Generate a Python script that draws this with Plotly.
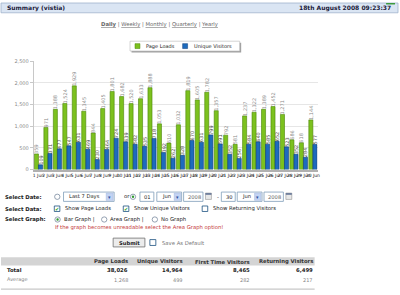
import plotly.graph_objects as go

days = [f"{d} Jun" for d in range(1, 31)]
page_loads = [359, 971, 1388, 1524, 1929, 1345, 844, 1405, 1801, 1682, 1520, 1633, 1888, 1053, 610,
              1032, 1819, 1605, 1782, 1357, 792, 581, 1237, 1322, 1389, 1452, 1271, 686, 618, 1144]
unique_visitors = [109, 371, 477, 547, 631, 469, 230, 464, 724, 639, 582, 535, 718, 392, 262,
                   328, 670, 631, 799, 591, 352, 256, 584, 640, 585, 652, 523, 352, 284, 577]
y_ticks = [0, 500, 1000, 1500, 2000, 2500]

table_cols = ["Page Loads", "Unique Visitors", "First Time Visitors", "Returning Visitors"]
table_total = ["38,026", "14,964", "8,465", "6,499"]
table_avg = ["1,268", "499", "282", "217"]

W, H = 400, 295
FONT = "DejaVu Sans"


def X(p):
    return p / W


def Y(p):
    return 1 - p / H


fig = go.Figure()
fig.add_trace(go.Bar(
    x=days, y=page_loads, name="Page Loads",
    marker=dict(color="#7cc11e", line=dict(color="#4a8406", width=0.6)),
    text=[f"{v:,}" for v in page_loads], textposition="outside", textangle=-90,
    textfont=dict(size=5, color="#8a8a8a", family=FONT), constraintext="none", cliponaxis=False,
))
fig.add_trace(go.Bar(
    x=days, y=unique_visitors, name="Unique Visitors",
    marker=dict(color="#1e6bbd", line=dict(color="#0c3a78", width=0.6)),
    text=[f"{v:,}" for v in unique_visitors], textposition="outside", textangle=-90,
    textfont=dict(size=5, color="#444444", family=FONT), constraintext="none", cliponaxis=False,
))

fig.update_layout(
    width=W, height=H, margin=dict(l=0, r=0, t=0, b=0),
    paper_bgcolor="white", plot_bgcolor="white", showlegend=False,
    barmode="group", bargap=0.14, bargroupgap=0.0,
    font=dict(family=FONT, size=5.5, color="#222"),
    xaxis=dict(domain=[X(33), X(319)], range=[-0.5, 29.5], tickmode="array",
               tickvals=days, ticktext=days, tickangle=0,
               tickfont=dict(size=4.5, color="#222"), showline=True, linecolor="#b0b0b0",
               linewidth=2, ticks="", showgrid=False, fixedrange=True),
    yaxis=dict(domain=[Y(170), Y(59.3)], range=[0, 2500], tickvals=y_ticks,
               ticktext=[f"{v:,}" for v in y_ticks], tickfont=dict(size=5, color="#8a8a8a"),
               showgrid=True, gridcolor="#e6e6e6", gridwidth=1, showline=True,
               linecolor="#c8c8c8", linewidth=1, ticks="outside", ticklen=3, tickcolor="#c8c8c8",
               zeroline=False),
)

shapes = []
ann = []


def rect(x0, y0, x1, y1, fill="white", line="#a0a0a0", lw=0.8):
    shapes.append(dict(type="rect", xref="paper", yref="paper", x0=X(x0), x1=X(x1),
                       y0=Y(y1), y1=Y(y0), fillcolor=fill, line=dict(color=line, width=lw)))


def circ(cx, cy, r, fill="white", line="#7a8aa0", lw=0.8):
    shapes.append(dict(type="circle", xref="paper", yref="paper", x0=X(cx - r), x1=X(cx + r),
                       y0=Y(cy + r), y1=Y(cy - r), fillcolor=fill, line=dict(color=line, width=lw)))


def text(x, y, s, size=5.5, color="#222", bold=False, anchor="left"):
    if bold:
        s = f"<b>{s}</b>"
    ann.append(dict(xref="paper", yref="paper", x=X(x), y=Y(y), text=s, showarrow=False,
                    xanchor=anchor, yanchor="middle",
                    font=dict(size=size, color=color, family=FONT)))


# Header bar
rect(0, 0, 400, 10, fill="#dae5f3", line="#9fb3cc", lw=0.8)
text(4, 5.5, "Summary (vistia)", size=6, color="#1a1a3a", bold=True)
text(395, 5.5, "18th August 2008 09:23:37", size=6, color="#1a1a3a", bold=True, anchor="right")
rect(388, 0, 397, 1.5, fill="#3c9a3c", line="#3c9a3c", lw=0)

# period links
ann.append(dict(xref="paper", yref="paper", x=X(160), y=Y(21.7), showarrow=False,
                xanchor="center", yanchor="middle",
                text="<b><u>Daily</u></b> | <u>Weekly</u> | <u>Monthly</u> | <u>Quarterly</u> | <u>Yearly</u>",
                font=dict(size=5.3, color="#666", family=FONT)))

# Legend box
rect(131.5, 40.5, 242, 50.5, fill="#a0a0a0", line="#a0a0a0", lw=0)
rect(130, 39, 240.5, 49, fill="white", line="#b8b8b8", lw=0.6)
rect(135, 41.5, 140, 46.5, fill="#7cc11e", line="#4a8406", lw=0.5)
text(144, 44, "Page Loads", size=5)
rect(183, 41.5, 188, 46.5, fill="#1e6bbd", line="#0c3a78", lw=0.5)
text(192, 44, "Unique Visitors", size=5)

# Row 1: Select Date
r1 = 197.8
text(2, r1, "Select Date:", bold=True, size=5.3)
circ(56.7, r1, 2.7)
rect(63, 193, 114, 202.5, line="#7f9db9")
text(66, r1, "Last 7 Days", size=5.2)
rect(106, 194, 113, 201.5, fill="#c3d3f3", line="#a0b4dc", lw=0.5)
text(109.5, r1, "▾", size=5, color="#3050a0", anchor="center")
text(122, r1 - 0.5, "or", size=5.3)
circ(133, r1, 2.7)
circ(133, r1, 1.2, fill="#2e9a2e", line="#2e9a2e", lw=0)
for x0, x1, s in [(140, 154, "01"), (222, 236, "30")]:
    rect(x0, 193, x1, 202.5, line="#7f9db9")
    text(x0 + 2.5, r1, s, size=5.2)
for x0 in (157, 238):
    rect(x0, 193, x0 + 25, 202.5, line="#7f9db9")
    text(x0 + 3, r1, "Jun", size=5.2)
    rect(x0 + 17.5, 194, x0 + 24, 201.5, fill="#c3d3f3", line="#a0b4dc", lw=0.5)
    text(x0 + 20.8, r1, "▾", size=5, color="#3050a0", anchor="center")
for x0 in (184, 265):
    rect(x0, 193, x0 + 19.5, 202.5, line="#7f9db9")
    text(x0 + 2, r1, "2008", size=5.2, color="#666")
    rect(x0 + 22, 194, x0 + 28, 200.5, fill="#e8e8e8", line="#808080", lw=0.5)
    rect(x0 + 22, 194, x0 + 28, 195.8, fill="#6a7a9a", line="#6a7a9a", lw=0)
text(216, r1, "-", size=5.3)

# Row 2: Select Data
r2 = 210
text(2, r2, "Select Data:", bold=True, size=5.3)
for cx, s, chk in [(56.5, "Show Page Loads", True), (126, "Show Unique Visitors", True),
                   (205.5, "Show Returning Visitors", False)]:
    rect(cx - 2.8, r2 - 2.8, cx + 2.8, r2 + 2.8, line="#1c5180")
    if chk:
        text(cx, r2, "✔", size=5, color="#21a121", anchor="center")
    text(cx + 6, r2, s, size=5.3)

# Row 3: Select Graph
r3 = 221
text(2, r3, "Select Graph:", bold=True, size=5.3)
for cx, s, sel in [(57, "Bar Graph |", True), (104, "Area Graph |", False), (155, "No Graph", False)]:
    circ(cx, r3, 2.7)
    if sel:
        circ(cx, r3, 1.2, fill="#2e9a2e", line="#2e9a2e", lw=0)
    text(cx + 4, r3, s, size=5.3)

text(52, 229.5, "If the graph becomes unreadable select the Area Graph option!", size=5.3,
     color="#c43a3a")

# Submit
rect(113, 240, 145, 249, fill="#ececec", line="#707070", lw=0.8)
text(129, 244.5, "Submit", bold=True, size=5.2, anchor="center")
rect(150, 241.5, 156, 247.5, line="#1c5180")
text(160, 244.5, "Save As Default", size=5.3, color="#777")

# Summary table
rect(0, 259.5, 316, 268, fill="#d4d4d4", line="#d4d4d4", lw=0)
col_right = [130, 185, 253, 316]
for xr, h, t, a in zip(col_right, table_cols, table_total, table_avg):
    text(xr, 264, h, bold=True, size=5.3, anchor="right", color="#333")
    text(xr, 273, t, bold=True, size=5.3, anchor="right", color="#222")
    text(xr, 282.5, a, size=5, anchor="right", color="#888")
text(4, 273, "Total", bold=True, size=5.3, color="#222")
text(4, 282.5, "Average", size=5, color="#888")
shapes.append(dict(type="line", xref="paper", yref="paper", x0=0, x1=X(316), y0=Y(292),
                   y1=Y(292), line=dict(color="#c8c8c8", width=1.2)))

fig.update_layout(shapes=shapes, annotations=ann)
fig.write_html("out.html")
